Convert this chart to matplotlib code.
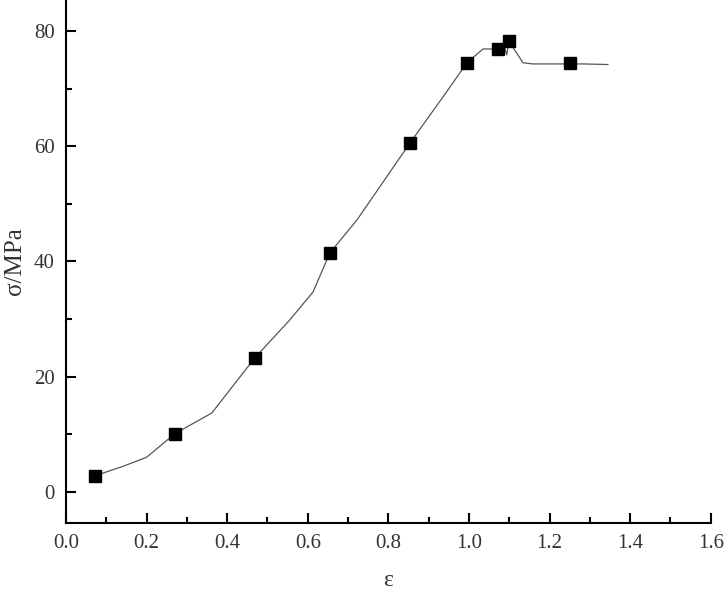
import matplotlib.pyplot as plt
from matplotlib.ticker import MultipleLocator

plt.rcParams['font.family'] = ['Liberation Serif', 'DejaVu Serif']

# measured points
strain = [0.072, 0.27, 0.469, 0.655, 0.854, 0.995, 1.072, 1.099, 1.25]
stress = [2.8, 10.1, 23.3, 41.5, 60.6, 74.5, 76.9, 78.3, 74.5]

# fitted curve
curve_x = [0.072, 0.14, 0.2, 0.27, 0.362, 0.469, 0.556, 0.613, 0.655, 0.722,
           0.854, 0.94, 0.995, 1.035, 1.057, 1.072, 1.088, 1.094, 1.099,
           1.134, 1.159, 1.25, 1.283, 1.345]
curve_y = [2.8, 4.4, 6.0, 10.1, 13.7, 23.3, 29.9, 34.7, 41.5, 47.2,
           60.6, 69.0, 74.5, 76.9, 76.9, 76.9, 77.2, 75.9, 78.3,
           74.5, 74.3, 74.3, 74.3, 74.2]

fig = plt.figure(figsize=(7.26, 5.96), dpi=100)
ax = fig.add_axes([0.0909, 0.1225, 0.888, 0.8775])

ax.plot(curve_x, curve_y, color="#555555", lw=0.9)
ax.plot(strain, stress, "s", color="black", markersize=8.5)

ax.set_xlim(0, 1.6)
ax.set_ylim(-5.4, 85.4)
ax.xaxis.set_major_locator(MultipleLocator(0.2))
ax.xaxis.set_minor_locator(MultipleLocator(0.1))
ax.yaxis.set_major_locator(MultipleLocator(20))
ax.yaxis.set_minor_locator(MultipleLocator(10))
ax.set_xticklabels([f"{v:.1f}" for v in ax.get_xticks()])

ax.spines["top"].set_visible(False)
ax.spines["right"].set_visible(False)
ax.spines["left"].set_linewidth(1.5)
ax.spines["bottom"].set_linewidth(1.5)

ax.tick_params(which="major", direction="in", length=7, width=1.5,
               labelsize=15, labelcolor="#333333", pad=8)
ax.tick_params(which="minor", direction="in", length=4, width=1.5)

ax.set_xlabel("ε", fontsize=17, color="#333333", labelpad=12)
ax.set_ylabel("σ/MPa", fontsize=18, color="#333333", labelpad=6)

fig.savefig("out.png", dpi=100)
